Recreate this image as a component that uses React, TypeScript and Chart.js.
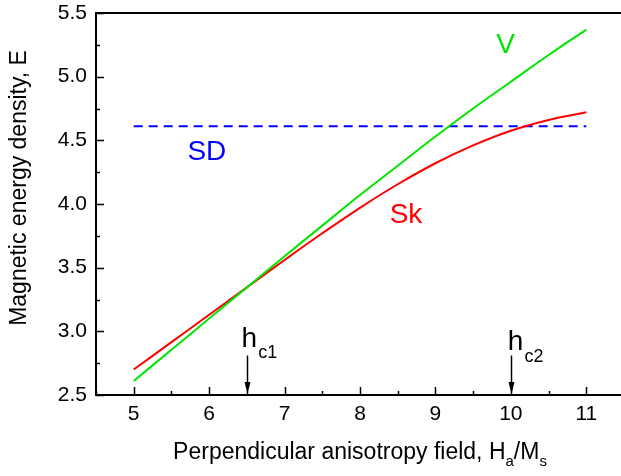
import React, { useEffect, useRef } from "react";
import { Chart, registerables } from "chart.js";

Chart.register(...registerables);

// ---- data ----
const fieldX = [5, 5.5, 6, 6.5, 7, 7.5, 8, 8.5, 9, 9.5, 10, 10.5, 11];
const vortexE = [2.61, 2.855, 3.1, 3.345, 3.59, 3.83, 4.07, 4.3, 4.53, 4.75, 4.96, 5.17, 5.37];
const skyrmionE = [2.7, 2.915, 3.13, 3.345, 3.56, 3.77, 3.97, 4.155, 4.32, 4.46, 4.575, 4.66, 4.72];
const sdX = [5, 11];
const sdE = [4.61, 4.61];
const xTicks = [5, 6, 7, 8, 9, 10, 11];
const yTicks = [2.5, 3.0, 3.5, 4.0, 4.5, 5.0, 5.5];
const hc1 = 6.5;
const hc2 = 10;

const FONT = "'Liberation Sans', Arial, Helvetica, sans-serif";
const GREEN = "#00e600";
const RED = "#ff0000";
const BLUE = "#0000ff";

const decor = {
  id: "decor",
  afterDraw(chart: any) {
    const { ctx, chartArea, scales } = chart;
    const { left, top, right, bottom } = chartArea;
    const xs = scales.x;
    const ys = scales.y;
    ctx.save();
    ctx.strokeStyle = "#000";
    ctx.fillStyle = "#000";
    ctx.lineWidth = 2;
    ctx.strokeRect(left, top, right - left, bottom - top);

    // inward ticks
    ctx.lineWidth = 1.5;
    ctx.beginPath();
    for (let v = 4.5; v <= 11.5001; v += 0.5) {
      const px = Math.round(xs.getPixelForValue(v)) + 0.5;
      const major = Math.abs(v - Math.round(v)) < 1e-6;
      const len = major ? 8 : 4;
      ctx.moveTo(px, bottom);
      ctx.lineTo(px, bottom - len);
    }
    for (let v = 2.5; v <= 5.5001; v += 0.25) {
      const py = Math.round(ys.getPixelForValue(v)) + 0.5;
      const major = Math.abs(v * 2 - Math.round(v * 2)) < 1e-6;
      const len = major ? 8 : 4;
      ctx.moveTo(left, py);
      ctx.lineTo(left + len, py);
    }
    ctx.stroke();

    // axis titles
    ctx.fillStyle = "#000";
    ctx.textBaseline = "alphabetic";
    ctx.textAlign = "left";
    const mainF = `23px ${FONT}`;
    const subF = `15px ${FONT}`;
    const parts: [string, string, number][] = [
      ["Perpendicular anisotropy field, H", mainF, 0],
      ["a", subF, 7],
      ["/M", mainF, 0],
      ["s", subF, 7],
    ];
    let total = 0;
    for (const [t, f] of parts) {
      ctx.font = f;
      total += ctx.measureText(t).width;
    }
    let cx = (left + Math.min(right, 624)) / 2 - total / 2;
    const base = 459;
    for (const [t, f, dy] of parts) {
      ctx.font = f;
      ctx.fillText(t, cx, base + dy);
      cx += ctx.measureText(t).width;
    }

    ctx.save();
    ctx.translate(20, 188);
    ctx.rotate(-Math.PI / 2);
    ctx.font = mainF;
    ctx.textAlign = "center";
    ctx.textBaseline = "middle";
    ctx.fillText("Magnetic energy density, E", 0, 0);
    ctx.restore();

    // curve labels
    ctx.textAlign = "center";
    ctx.textBaseline = "middle";
    ctx.font = `28px ${FONT}`;
    ctx.fillStyle = GREEN;
    ctx.fillText("V", xs.getPixelForValue(9.93), ys.getPixelForValue(5.25));
    ctx.fillStyle = BLUE;
    ctx.fillText("SD", xs.getPixelForValue(5.97), ys.getPixelForValue(4.41));
    ctx.fillStyle = RED;
    ctx.fillText("Sk", xs.getPixelForValue(8.61), ys.getPixelForValue(3.91));

    // h_c labels and arrows
    const hLabel = (xv: number, hx: number, hy: number, sub: string, sy: number) => {
      ctx.fillStyle = "#000";
      ctx.textAlign = "left";
      ctx.textBaseline = "alphabetic";
      ctx.font = `28px ${FONT}`;
      const px = xs.getPixelForValue(hx);
      ctx.fillText("h", px, ys.getPixelForValue(hy));
      const w = ctx.measureText("h").width;
      ctx.font = `18px ${FONT}`;
      ctx.fillText(sub, px + w + 1, ys.getPixelForValue(sy));
      // arrow
      const ax = Math.round(xs.getPixelForValue(xv)) + 0.5;
      const y0 = ys.getPixelForValue(2.81);
      const y1 = ys.getPixelForValue(2.5);
      ctx.strokeStyle = "#000";
      ctx.lineWidth = 1.5;
      ctx.beginPath();
      ctx.moveTo(ax, y0);
      ctx.lineTo(ax, y1 - 8);
      ctx.stroke();
      ctx.beginPath();
      ctx.moveTo(ax - 3, y1 - 13);
      ctx.lineTo(ax + 3, y1 - 13);
      ctx.lineTo(ax, y1 - 1);
      ctx.closePath();
      ctx.fill();
    };
    hLabel(hc1, 6.43, 2.877, "c1", 2.79);
    hLabel(hc2, 9.96, 2.853, "c2", 2.76);

    ctx.restore();
  },
};

export default function App() {
  const ref = useRef<HTMLCanvasElement | null>(null);
  useEffect(() => {
    if (!ref.current) return;
    const chart = new Chart(ref.current, {
      type: "line",
      data: {
        datasets: [
          {
            label: "V",
            data: fieldX.map((x, i) => ({ x, y: vortexE[i] })),
            borderColor: GREEN,
            borderWidth: 2,
            pointRadius: 0,
            tension: 0.4,
          },
          {
            label: "Sk",
            data: fieldX.map((x, i) => ({ x, y: skyrmionE[i] })),
            borderColor: RED,
            borderWidth: 2,
            pointRadius: 0,
            tension: 0.4,
          },
          {
            label: "SD",
            data: sdX.map((x, i) => ({ x, y: sdE[i] })),
            borderColor: BLUE,
            borderWidth: 2,
            borderDash: [9, 6],
            pointRadius: 0,
          },
        ],
      },
      options: {
        animation: false,
        responsive: false,
        maintainAspectRatio: false,
        layout: { padding: { left: 0, top: 13, right: 16, bottom: 0 } },
        plugins: { legend: { display: false }, tooltip: { enabled: false } },
        scales: {
          x: {
            type: "linear",
            min: 4.5,
            max: 11.5,
            grid: { display: false, drawTicks: false },
            border: { display: false },
            afterBuildTicks: (s: any) => {
              s.ticks = xTicks.map((v) => ({ value: v }));
            },
            afterFit: (s: any) => {
              s.height = 81;
              s.paddingLeft = 0;
              s.paddingRight = 0;
            },
            ticks: {
              autoSkip: false,
              maxRotation: 0,
              padding: 7,
              color: "#000",
              font: { family: FONT, size: 21 },
              callback: (v: any) => String(v),
            },
          },
          y: {
            type: "linear",
            min: 2.5,
            max: 5.5,
            grid: { display: false, drawTicks: false },
            border: { display: false },
            afterBuildTicks: (s: any) => {
              s.ticks = yTicks.map((v) => ({ value: v }));
            },
            afterFit: (s: any) => {
              s.width = 96;
              s.paddingTop = 0;
              s.paddingBottom = 0;
            },
            ticks: {
              autoSkip: false,
              padding: 9,
              color: "#000",
              font: { family: FONT, size: 21 },
              callback: (v: any) => Number(v).toFixed(1),
            },
          },
        },
      },
      plugins: [decor],
    });
    return () => chart.destroy();
  }, []);
  return (
    <div
      style={{
        position: "fixed",
        left: 0,
        top: 0,
        width: 621,
        height: 476,
        overflow: "hidden",
        background: "#fff",
      }}
    >
      <canvas ref={ref} width={640} height={476} style={{ display: "block", width: 640, height: 476 }} />
    </div>
  );
}
